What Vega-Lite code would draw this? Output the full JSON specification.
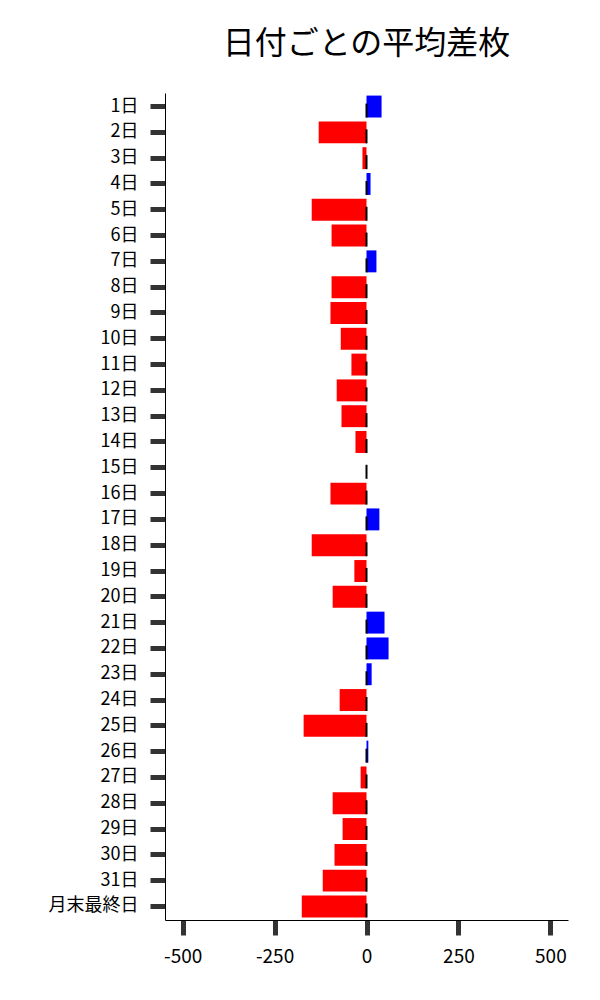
{
  "$schema": "https://vega.github.io/schema/vega-lite/v6.json",
  "width": 403,
  "height": 827,
  "autosize": "none",
  "padding": {"left": 165, "top": 93, "right": 32, "bottom": 80},
  "background": "white",
  "title": {
    "text": "日付ごとの平均差枚",
    "fontSize": 32,
    "font": "Noto Sans CJK JP",
    "fontWeight": "normal",
    "color": "black",
    "anchor": "middle",
    "offset": 32
  },
  "data": {
    "values": [
      {"day": "1日", "value": 41},
      {"day": "2日", "value": -130},
      {"day": "3日", "value": -11},
      {"day": "4日", "value": 11},
      {"day": "5日", "value": -149},
      {"day": "6日", "value": -95},
      {"day": "7日", "value": 27},
      {"day": "8日", "value": -95},
      {"day": "9日", "value": -98},
      {"day": "10日", "value": -70},
      {"day": "11日", "value": -41},
      {"day": "12日", "value": -81},
      {"day": "13日", "value": -68},
      {"day": "14日", "value": -30},
      {"day": "15日", "value": 0},
      {"day": "16日", "value": -98},
      {"day": "17日", "value": 35},
      {"day": "18日", "value": -149},
      {"day": "19日", "value": -33},
      {"day": "20日", "value": -92},
      {"day": "21日", "value": 49},
      {"day": "22日", "value": 60},
      {"day": "23日", "value": 14},
      {"day": "24日", "value": -73},
      {"day": "25日", "value": -171},
      {"day": "26日", "value": 5},
      {"day": "27日", "value": -16},
      {"day": "28日", "value": -92},
      {"day": "29日", "value": -65},
      {"day": "30日", "value": -87},
      {"day": "31日", "value": -119},
      {"day": "月末最終日", "value": -176}
    ]
  },
  "encoding": {
    "y": {
      "field": "day",
      "type": "nominal",
      "sort": null,
      "title": null,
      "scale": {"paddingInner": 0.15, "paddingOuter": 0.1},
      "axis": {
        "domainColor": "black",
        "domainWidth": 1,
        "tickColor": "#333333",
        "tickWidth": 5,
        "tickSize": 15,
        "labelPadding": 12,
        "labelFont": "Noto Sans CJK JP",
        "labelFontSize": 18,
        "labelColor": "black"
      }
    },
    "x": {
      "field": "value",
      "type": "quantitative",
      "title": null,
      "scale": {"domain": [-548, 548], "nice": false, "zero": false},
      "axis": {
        "values": [-500, -250, 0, 250, 500],
        "labelExpr": "datum.value < 0 ? '-' + abs(datum.value) : '' + datum.value",
        "grid": false,
        "domainColor": "black",
        "domainWidth": 1,
        "tickColor": "#333333",
        "tickWidth": 5,
        "tickSize": 15,
        "labelPadding": 12,
        "labelFont": "Noto Sans CJK JP",
        "labelFontSize": 19,
        "labelColor": "black"
      }
    }
  },
  "layer": [
    {
      "mark": {"type": "bar"},
      "encoding": {
        "color": {
          "condition": {"test": "datum.value < 0", "value": "#ff0000"},
          "value": "#0000ff"
        }
      }
    },
    {
      "mark": {"type": "tick", "color": "black", "thickness": 2, "size": 14, "yOffset": 4, "opacity": 1},
      "encoding": {
        "x": {"datum": 0, "type": "quantitative"}
      }
    }
  ],
  "config": {"view": {"stroke": null}}
}
